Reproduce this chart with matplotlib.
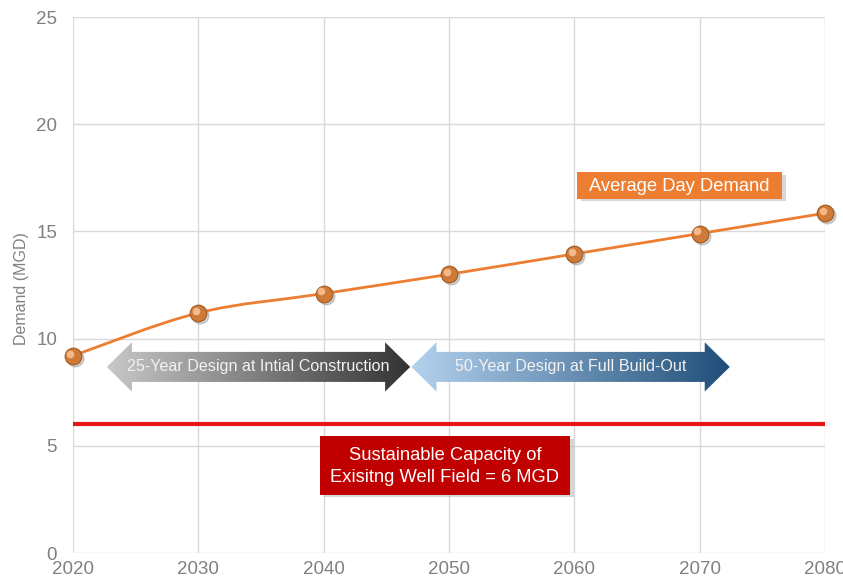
import matplotlib.pyplot as plt
import numpy as np
from matplotlib.path import Path
from matplotlib.patches import PathPatch, Rectangle, Polygon
from matplotlib.colors import LinearSegmentedColormap

plt.rcParams['font.family'] = ['Liberation Sans', 'DejaVu Sans']

# data
years = [2020, 2030, 2040, 2050, 2060, 2070, 2080]
demand = [9.2, 11.2, 12.1, 13.0, 13.95, 14.9, 15.85]
capacity = 6
x_ticks = [2020, 2030, 2040, 2050, 2060, 2070, 2080]
y_ticks = [0, 5, 10, 15, 20, 25]

fig = plt.figure(figsize=(8.43, 5.87), dpi=100)
ax = fig.add_axes([0.0866, 0.0579, 0.8921, 0.9131])
ax.set_xlim(2020, 2080)
ax.set_ylim(0, 25)

# grid and axes look
ax.set_xticks(x_ticks)
ax.set_yticks(y_ticks)
ax.grid(True, color='#d9d9d9', linewidth=1)
ax.set_axisbelow(True)
for s in ax.spines.values():
    s.set_visible(False)
ax.tick_params(length=0, labelsize=13.5, colors='#808080', pad=6)
ax.tick_params(axis='y', pad=11.5)
ax.set_ylabel('Demand (MGD)', fontsize=11.5, color='#808080')
ax.yaxis.set_label_coords(-0.0585, 0.4925)

# smooth line (Catmull-Rom drawn as cubic Bezier segments)
pts = np.column_stack([years, demand]).astype(float)
ext = np.vstack([pts[0], pts, pts[-1]])
verts = [pts[0]]
codes = [Path.MOVETO]
for i in range(len(pts) - 1):
    p0, p1, p2, p3 = ext[i], ext[i + 1], ext[i + 2], ext[i + 3]
    verts += [p1 + (p2 - p0) / 6, p2 - (p3 - p1) / 6, p2]
    codes += [Path.CURVE4] * 3
ax.add_patch(PathPatch(Path(verts, codes), fill=False, edgecolor='#ed7d31', linewidth=2, zorder=3))

# marker "spheres"
ax.plot(np.array(years) + 0.15, np.array(demand) - 0.1, 'o', ms=12, color='#999999', alpha=0.45, zorder=4, clip_on=False)
ax.plot(years, demand, 'o', ms=12, mfc='#cf7a36', mec='#a05a22', mew=0.8, zorder=5, clip_on=False)
ax.plot(np.array(years) - 0.2, np.array(demand) + 0.1, 'o', ms=5.5, mfc='#f5b889', mec='none', zorder=6, clip_on=False)

# capacity line
ax.axhline(capacity, color='#e8141b', linewidth=3, zorder=3)


def grad_arrow(x0, x1, yc, c_left, c_right, label):
    bh, hh, hl = 0.7, 1.15, 2.0
    poly = [(x0, yc), (x0 + hl, yc + hh), (x0 + hl, yc + bh), (x1 - hl, yc + bh),
            (x1 - hl, yc + hh), (x1, yc), (x1 - hl, yc - hh), (x1 - hl, yc - bh),
            (x0 + hl, yc - bh), (x0 + hl, yc - hh)]
    patch = Polygon(poly, closed=True, facecolor='none', edgecolor='none')
    ax.add_patch(patch)
    cmap = LinearSegmentedColormap.from_list('g', [c_left, c_right])
    grad = np.linspace(0, 1, 256).reshape(1, -1)
    im = ax.imshow(grad, cmap=cmap, extent=[x0, x1, yc - hh, yc + hh], aspect='auto', zorder=4)
    im.set_clip_path(patch)
    ax.text((x0 + x1) / 2, yc, label, ha='center', va='center', fontsize=11.6, color='#f2f2f2', zorder=6)


grad_arrow(2022.7, 2046.9, 8.68, '#c8c8c8', '#333333', '25-Year Design at Intial Construction')
grad_arrow(2047.0, 2072.4, 8.68, '#b4d2ee', '#1f4e79', '50-Year Design at Full Build-Out')


def label_box(x0, x1, y0, y1, color, text, size):
    ax.add_patch(Rectangle((x0 + 0.3, y0 - 0.12), x1 - x0, y1 - y0, facecolor='#b0b0b0', edgecolor='none', alpha=0.5, zorder=6))
    ax.add_patch(Rectangle((x0, y0), x1 - x0, y1 - y0, facecolor=color, edgecolor='none', zorder=7))
    ax.text((x0 + x1) / 2, (y0 + y1) / 2 - 0.05, text, ha='center', va='center', fontsize=size,
            color='white', zorder=8, linespacing=1.38)


label_box(2039.7, 2059.65, 2.72, 5.45, '#c00000', 'Sustainable Capacity of\nExisitng Well Field = 6 MGD', 13.2)
label_box(2060.2, 2076.55, 16.52, 17.77, '#ed7d31', 'Average Day Demand', 13.2)

ax.set_xlim(2020, 2080)
ax.set_ylim(0, 25)
fig.savefig('out.png', dpi=100)
